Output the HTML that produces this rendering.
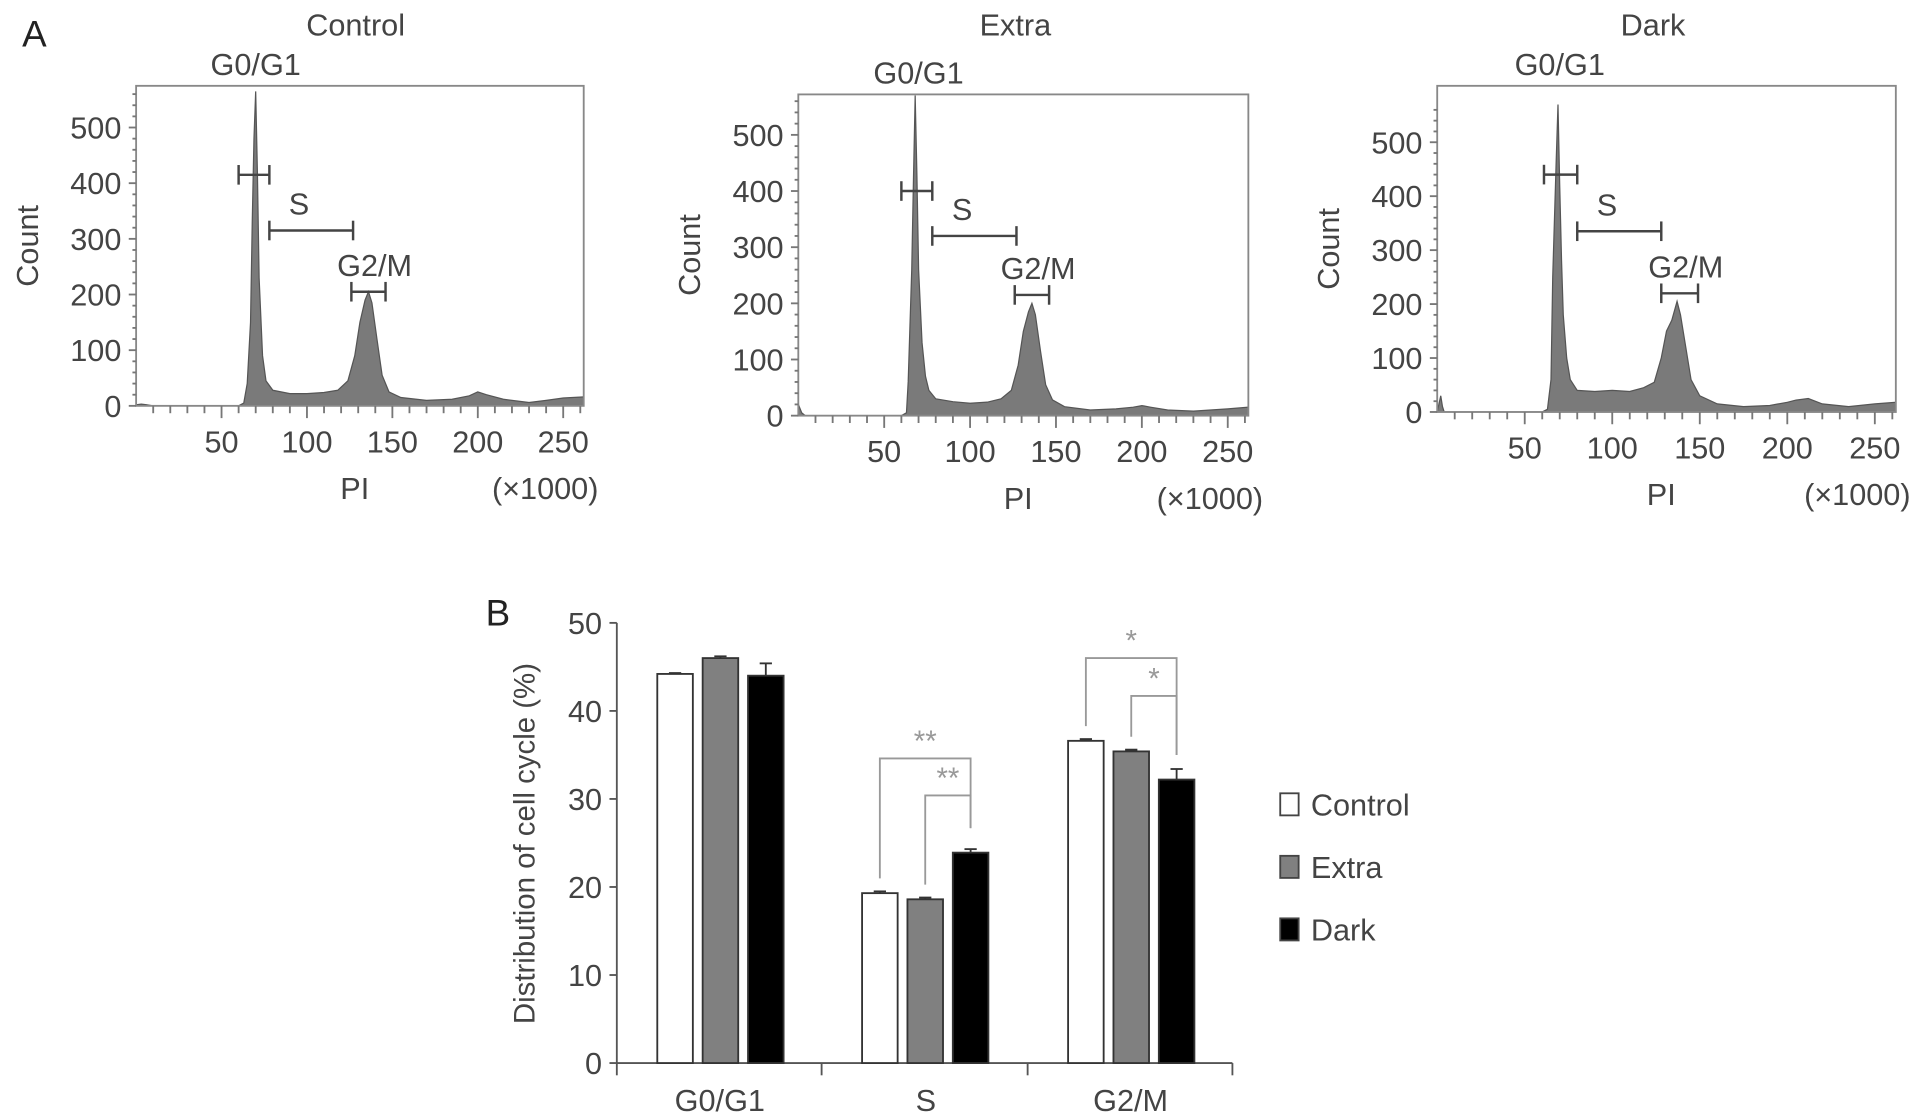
<!DOCTYPE html>
<html><head><meta charset="utf-8"><style>
html,body{margin:0;padding:0;background:#fff;}
svg{display:block;font-family:"Liberation Sans",sans-serif;}
</style></head><body>
<svg id="fig" width="1913" height="1117" viewBox="0 0 1560 911" preserveAspectRatio="none">
<text x="18" y="38" font-size="30" fill="#222">A</text>
<text x="396" y="510" font-size="30" fill="#222">B</text>
<g id="hists"></g>
<g id="bars"></g>
</svg>
<script>
// ---- Histogram data (PI x1000, count) ----
const histTitles = ["Control", "Extra", "Dark"];
const piTicks = [50, 100, 150, 200, 250];
const countTicks = [0, 100, 200, 300, 400, 500];
const controlPI = [0,3,6,10,20,40,60,63,65,67,68,69,70,71,72,74,76,80,90,100,110,118,124,128,131,134,136,138,141,144,148,155,170,185,195,200,205,215,230,240,250,262];
const controlCount = [2,3,2,0,0,0,0,5,40,150,330,480,565,420,230,90,45,28,22,22,24,28,45,90,150,190,205,185,120,55,25,15,10,12,18,25,20,12,6,10,14,16];
const extraPI = [0,2,4,6,10,20,60,63,64,66,67,68,69,70,72,74,76,80,90,100,110,118,124,128,131,134,136,138,141,144,148,155,170,185,195,200,205,215,230,240,250,262];
const extraCount = [20,5,0,0,0,0,0,5,60,260,420,570,430,260,130,70,45,30,25,22,24,30,45,90,150,185,200,180,115,55,28,16,10,12,15,18,15,10,8,10,12,15];
const darkPI = [0,2,3,4,6,10,20,60,63,65,66,68,69,70,71,72,74,76,80,90,100,110,118,124,128,131,134,137,139,142,145,150,160,175,190,200,205,212,220,235,250,262];
const darkCount = [0,30,10,0,0,0,0,0,5,60,250,470,570,420,280,180,100,60,40,38,40,38,45,55,100,150,170,205,180,120,60,30,15,10,12,18,22,25,15,10,15,18];
const histPI = [controlPI, extraPI, darkPI];
const histCount = [controlCount, extraCount, darkCount];
const gateG1 = [[60,78],[60,78],[61,80]];
const gateS = [[78,127],[78,127],[80,128]];
const gateG2 = [[126,146],[126,146],[128,149]];
const gateY = [[415,315,205],[400,320,215],[440,335,220]];

const NS="http://www.w3.org/2000/svg";
function el(tag, attrs, parent){const e=document.createElementNS(NS,tag);for(const k in attrs)e.setAttribute(k,attrs[k]);parent.appendChild(e);return e;}
const frames=[{l:111,r:476,t:70,b:331,y500:104,tx:290},{l:651,r:1018,t:77,b:339,y500:110,tx:828},{l:1172,r:1546,t:70,b:336,y500:116,tx:1348}];
const hg=document.getElementById('hists');
frames.forEach((f,i)=>{
  const g=el('g',{},hg);
  
  
  const x0=f.l, xs=(f.r-f.l)/262;
  const X=v=>x0+v*xs; const Y=c=>f.b-(c/500)*(f.b-f.y500);
  const t=el('text',{x:f.tx,y:29,'font-size':25,fill:'#444','text-anchor':'middle'},g);t.textContent=histTitles[i];
  
  
  let d='M'+X(histPI[i][0])+','+f.b;
  histPI[i].forEach((p,j)=>{d+=' L'+X(p).toFixed(1)+','+Y(histCount[i][j]).toFixed(1);});
  d+=' L'+X(262)+','+f.b+' Z';
  const h=el('path',{d:d,fill:'#7a7a7a',stroke:'#555','stroke-width':1},g);
  
  
  const fr=el('rect',{x:f.l,y:f.t,width:f.r-f.l,height:f.b-f.t,fill:'none',stroke:'#888','stroke-width':1.5},g);
  
  
  for(let c=0;c<=560;c+=20){el('line',{x1:f.l-(c%100===0?6:3),x2:f.l,y1:Y(c),y2:Y(c),stroke:'#777','stroke-width':1.5},g);}
  countTicks.forEach(c=>{const tt=el('text',{x:f.l-12,y:Y(c)+9,'font-size':25,fill:'#444','text-anchor':'end'},g);tt.textContent=c;
    
    });
  for(let p=10;p<=260;p+=10){el('line',{x1:X(p),x2:X(p),y1:f.b,y2:f.b+(p%50===0?10:6),stroke:'#777','stroke-width':1.5},g);}
  piTicks.forEach(p=>{const tt=el('text',{x:X(p),y:f.b+38,'font-size':25,fill:'#444','text-anchor':'middle'},g);tt.textContent=p;
    
    });
  const yl=el('text',{x:0,y:0,'font-size':25,fill:'#444','text-anchor':'middle',transform:`translate(${f.l-80},${(f.t+f.b)/2}) rotate(-90)`},g);yl.textContent='Count';
  
  
  const xl=el('text',{x:X(128),y:f.b+76,'font-size':25,fill:'#444','text-anchor':'middle'},g);xl.textContent='PI';
  
  
  const xu=el('text',{x:f.r+12,y:f.b+76,'font-size':25,fill:'#444','text-anchor':'end'},g);xu.textContent='(×1000)';
  
  
  const gates=[gateG1[i],gateS[i],gateG2[i]];
  const names=['G0/G1','S','G2/M'];
  gates.forEach((gt,k)=>{
    const yy=Y(gateY[i][k]);
    const gg=el('g',{stroke:'#444','stroke-width':2},g);
    
    
    el('line',{x1:X(gt[0]),x2:X(gt[1]),y1:yy,y2:yy},gg);
    el('line',{x1:X(gt[0]),x2:X(gt[0]),y1:yy-8,y2:yy+8},gg);
    el('line',{x1:X(gt[1]),x2:X(gt[1]),y1:yy-8,y2:yy+8},gg);
    let lx,ly;
    if(k===0){lx=X(70);ly=f.t-9;}else if(k===1){lx=X((gt[0]+gt[1])/2)-10;ly=yy-13;}else{lx=X((gt[0]+gt[1])/2)+5;ly=yy-13;}
    const lt=el('text',{x:lx,y:ly,'font-size':25,fill:'#444','text-anchor':'middle'},g);lt.textContent=names[k];
    
    
  });
});

// ---- Bar chart data ----
const phases = ["G0/G1", "S", "G2/M"];
const groups = ["Control", "Extra", "Dark"];
const controlVals = [44.2, 19.3, 36.6];
const extraVals = [46.0, 18.6, 35.4];
const darkVals = [44.0, 23.9, 32.2];
const controlErr = [0.1, 0.2, 0.2];
const extraErr = [0.2, 0.2, 0.2];
const darkErr = [1.4, 0.4, 1.2];
const yTicks = [0, 10, 20, 30, 40, 50];
const bg=document.getElementById('bars');
const ax={l:503,r:1005,b:867,t:508};
const BY=v=>ax.b-v/50*(ax.b-ax.t);
const groupLeft=[536,703,871];
const barW=29, barStep=37;
const fills=['#fff','#808080','#000'];
const vals=[controlVals,extraVals,darkVals], errs=[controlErr,extraErr,darkErr];
el('line',{x1:ax.l,x2:ax.l,y1:ax.t,y2:ax.b,stroke:'#555','stroke-width':1.5},bg);
el('line',{x1:ax.l,x2:ax.r,y1:ax.b,y2:ax.b,stroke:'#555','stroke-width':1.5},bg);
[ax.l,670,838,ax.r].forEach(x=>el('line',{x1:x,x2:x,y1:ax.b,y2:ax.b+10,stroke:'#555','stroke-width':1.5},bg));
yTicks.forEach(v=>{el('line',{x1:ax.l-6,x2:ax.l,y1:BY(v),y2:BY(v),stroke:'#555','stroke-width':1.5},bg);
  const t=el('text',{x:ax.l-12,y:BY(v)+9,'font-size':25,fill:'#444','text-anchor':'end'},bg);t.textContent=v;
  
  });
const yt=el('text',{x:0,y:0,'font-size':24,fill:'#444','text-anchor':'middle',transform:'translate(436,688) rotate(-90)'},bg);yt.textContent='Distribution of cell cycle (%)';


phases.forEach((p,i)=>{
  const t=el('text',{x:[587,755,922][i],y:906,'font-size':25,fill:'#444','text-anchor':'middle'},bg);t.textContent=p;
  
  
  groups.forEach((gname,j)=>{
    const x=groupLeft[i]+j*barStep, v=vals[j][i], e=errs[j][i];
    const r=el('rect',{x:x,y:BY(v),width:barW,height:ax.b-BY(v),fill:fills[j],stroke:'#333','stroke-width':1.5},bg);
    
    
    el('line',{x1:x+barW/2,x2:x+barW/2,y1:BY(v),y2:BY(v+e),stroke:'#333','stroke-width':1.5},bg);
    el('line',{x1:x+barW/2-5,x2:x+barW/2+5,y1:BY(v+e),y2:BY(v+e),stroke:'#333','stroke-width':1.5},bg);
  });
});
const sigPhase=[1,1,2,2];
const sigFrom=[0,1,0,1];
const sigLevel=[34.6,30.4,46.0,41.7];
const sigStars=['**','**','*','*'];
sigPhase.forEach((p,k)=>{
  const x1=groupLeft[p]+sigFrom[k]*barStep+barW/2, x2=groupLeft[p]+2*barStep+barW/2;
  const yy=BY(sigLevel[k]);
  const b=el('path',{d:`M${x1},${BY(vals[sigFrom[k]][p])-12} V${yy} H${x2} V${BY(vals[2][p])-20}`,fill:'none',stroke:'#999','stroke-width':1.5},bg);
  
  
  const s=el('text',{x:(x1+x2)/2,y:yy-6,'font-size':24,fill:'#999','text-anchor':'middle'},bg);s.textContent=sigStars[k];
  
  
});
groups.forEach((gname,j)=>{
  const y=[656,707,758][j];
  const r=el('rect',{x:1044,y:y-9,width:15,height:18,fill:fills[j],stroke:'#444','stroke-width':1.5},bg);
  
  
  const t=el('text',{x:1069,y:y+9,'font-size':25,fill:'#444'},bg);t.textContent=gname;
  
  
});
</script>
</body></html>
